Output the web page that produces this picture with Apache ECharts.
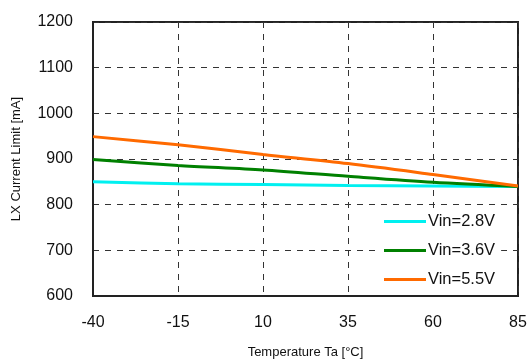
<!DOCTYPE html>
<html><head><meta charset="utf-8">
<script src="https://cdn.jsdelivr.net/npm/echarts@6/dist/echarts.min.js"></script>
<style>html,body{margin:0;padding:0;background:#fff}#c{width:530px;height:360px}</style>
</head><body><div id="c"></div>
<script>
var temps = [-40, -15, 10, 35, 60, 85];
var xTicks = [-40, -15, 10, 35, 60, 85];
var yTicks = [600, 700, 800, 900, 1000, 1100, 1200];
var vin28 = [850, 846, 844, 842, 841, 840];
var vin36 = [899, 886, 876, 862, 849, 840];
var vin55 = [949, 931, 910, 890, 866, 841];
var names = ['Vin=2.8V', 'Vin=3.6V', 'Vin=5.5V'];
var colors = ['#00F0F0', '#008000', '#FF6A00'];

function pairs(v){ return temps.map(function(t,i){ return [t, v[i]]; }); }
var font = 'Arial, "Liberation Sans", sans-serif';
var chart = echarts.init(document.getElementById('c'));
chart.setOption({
  animation: false,
  backgroundColor: '#fff',
  grid: { left: 93, right: 12, top: 22, bottom: 64, show: true, borderColor: '#222', borderWidth: 2, backgroundColor: 'transparent', outerBoundsMode: 'none', containLabel: false },
  xAxis: {
    type: 'value', min: xTicks[0], max: xTicks[xTicks.length-1], interval: 25,
    name: 'Temperature Ta [°C]', nameLocation: 'middle', nameGap: 50,
    nameTextStyle: { fontFamily: font, fontSize: 13, color: '#111' },
    axisLine: { onZero: false, lineStyle: { color: '#222', width: 2 } },
    axisTick: { show: false },
    axisLabel: { fontFamily: font, fontSize: 16, color: '#111', margin: 19 },
    splitLine: { show: true, lineStyle: { color: '#333', type: [6, 6], width: 1 } }
  },
  yAxis: {
    type: 'value', min: yTicks[0], max: yTicks[yTicks.length-1], interval: 100,
    name: 'LX Current Limit [mA]', nameLocation: 'middle', nameGap: 70,
    nameTextStyle: { fontFamily: font, fontSize: 13, color: '#111' },
    axisLine: { show: true, onZero: false, lineStyle: { color: '#222', width: 2 } },
    axisTick: { show: false },
    axisLabel: { fontFamily: font, fontSize: 16, color: '#111', margin: 20, formatter: function(v){ return String(v); } },
    splitLine: { show: true, lineStyle: { color: '#333', type: [6, 6], width: 1 } }
  },
  legend: {
    orient: 'vertical', left: 380, top: 209,
    backgroundColor: '#fff', padding: [4, 6, 4, 4],
    icon: 'rect', itemWidth: 42, itemHeight: 3, itemGap: 12,
    textStyle: { fontFamily: font, fontSize: 16.5, color: '#111', padding: [0,0,0,-3] },
    data: names
  },
  series: [vin28, vin36, vin55].map(function(v, i){
    return {
      name: names[i], type: 'line', data: pairs(v), smooth: 0.3,
      symbol: 'none', color: colors[i],
      lineStyle: { color: colors[i], width: 3 }, z: 3 + i
    };
  })
});
</script></body></html>
